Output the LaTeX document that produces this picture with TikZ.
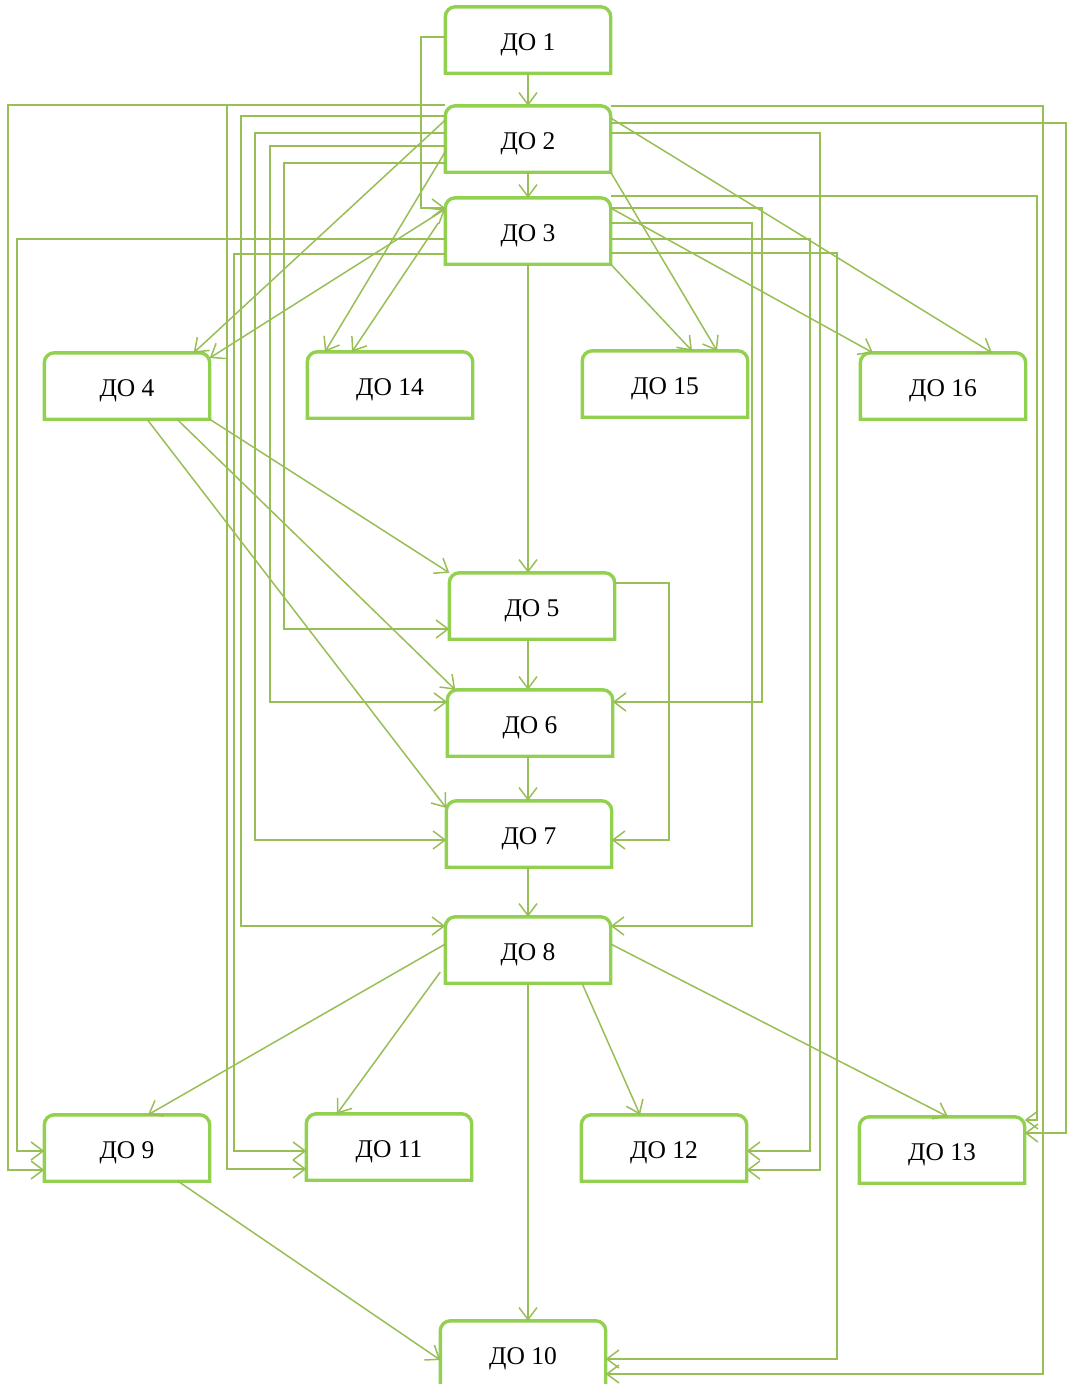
\documentclass[tikz,border=0pt]{standalone}
\usepackage{fontspec}
\setmainfont{Liberation Serif}
\usetikzlibrary{arrows.meta,calc}
\definecolor{doRim}{RGB}{146,208,80}
\definecolor{doLink}{RGB}{152,190,86}
\tikzset{
    do box/.style = {
        minimum width=165pt,
        minimum height=66pt,
        inner sep=0pt,
        text height=20pt,
        text depth=0pt,
        font=\fontsize{25.5}{30}\selectfont,
        },
    do rim/.style = {
        draw=doRim,
        line width=3.4pt,
        },
    do link/.style = {
        draw=doLink,
        line width=1.5pt,
        ->,
        },
    >={Straight Barb[length=12pt,width=18pt]},
}
\begin{document}
\begin{tikzpicture}[x=1pt, y=-1pt]
    \useasboundingbox (0,0) rectangle (1067,1384);
    % boxes
    \node [do box] (d1)  at (528,40)   {ДО 1};
    \node [do box] (d2)  at (528,139)  {ДО 2};
    \node [do box] (d3)  at (528,231)  {ДО 3};
    \node [do box] (d4)  at (127,386)  {ДО 4};
    \node [do box] (d14) at (390,385)  {ДО 14};
    \node [do box] (d15) at (665,384)  {ДО 15};
    \node [do box] (d16) at (943,386)  {ДО 16};
    \node [do box] (d5)  at (532,606)  {ДО 5};
    \node [do box] (d6)  at (530,723)  {ДО 6};
    \node [do box] (d7)  at (529,834)  {ДО 7};
    \node [do box] (d8)  at (528,950)  {ДО 8};
    \node [do box] (d9)  at (127,1148) {ДО 9};
    \node [do box] (d11) at (389,1147) {ДО 11};
    \node [do box] (d12) at (664,1148) {ДО 12};
    \node [do box] (d13) at (942,1150) {ДО 13};
    \node [do box] (d10) at (523,1354) {ДО 10};

    % rims, rounded on top only
    \foreach \n in {d1,d2,d3,d4,d5,d6,d7,d8,d9,d10,d11,d12,d13,d14,d15,d16}
        \draw [do rim] (\n.south west) -- ($(\n.north west)+(0,10)$)
            arc [start angle=180, end angle=90, radius=10pt]
            -- ($(\n.north east)+(-10,0)$)
            arc [start angle=90, end angle=0, radius=10pt]
            -- (\n.south east) -- cycle;

    % main column
    \foreach \a/\b in {d1/d2, d2/d3, d3/d5, d5/d6, d6/d7, d7/d8, d8/d10}
        \draw [do link] (\a.south -| d3) -- (\b.north -| d3);

    % routes on the left
    \draw [do link] ($(d2.west)+(0,-34)$) -| (8,1170)   -- ($(d9.west)+(0,22)$);
    \draw [do link] ($(d3.west)+(0,8)$)   -| (17,1151)  -- ($(d9.west)+(0,3)$);
    \draw [do link] ($(d2.west)+(0,-34)$) -| (227,1169) -- ($(d11.west)+(0,22)$);
    \draw [do link] ($(d3.west)+(0,23)$)  -| (234,1151) -- ($(d11.west)+(0,4)$);
    \draw [do link] ($(d2.west)+(0,-23)$) -| (241,926)  -- ($(d8.west)+(0,-24)$);
    \draw [do link] ($(d2.west)+(0,-6)$)  -| (255,840)  -- ($(d7.west)+(0,6)$);
    \draw [do link] ($(d2.west)+(0,7)$)   -| (270,702)  -- ($(d6.west)+(0,-21)$);
    \draw [do link] ($(d2.west)+(0,24)$)  -| (284,629)  -- ($(d5.west)+(0,23)$);
    \draw [do link] ($(d1.west)+(0,-3)$)  -| (421,208)  -- ($(d3.west)+(0,-23)$);

    % routes on the right
    \draw [do link] ($(d2.east)+(0,-33)$) -| (1043,1374) -- ($(d10.east)+(0,20)$);
    \draw [do link] ($(d2.east)+(0,-16)$) -| (1066,1133) -- ($(d13.east)+(0,-17)$);
    \draw [do link] ($(d2.east)+(0,-6)$)  -| (820,1170)  -- ($(d12.east)+(0,22)$);
    \draw [do link] ($(d3.east)+(0,-35)$) -| (1037,1120) -- ($(d13.east)+(0,-30)$);
    \draw [do link] ($(d3.east)+(0,-23)$) -| (762,702)   -- ($(d6.east)+(0,-21)$);
    \draw [do link] ($(d3.east)+(0,-8)$)  -| (752,926)   -- ($(d8.east)+(0,-24)$);
    \draw [do link] ($(d3.east)+(0,8)$)   -| (810,1151)  -- ($(d12.east)+(0,3)$);
    \draw [do link] ($(d3.east)+(0,22)$)  -| (837,1359)  -- ($(d10.east)+(0,5)$);
    \draw [do link] ($(d5.east)+(0,-23)$) -| (669,840)   -- ($(d7.east)+(0,6)$);

    % straight links
    \draw [do link] ($(d2.west)+(0,-19)$) -- ($(d4.north east)+(-16,0)$);
    \draw [do link, <->] ($(d4.east)+(0,-28)$) -- ($(d3.west)+(0,-22)$);
    \draw [do link] ($(d2.west)+(1,11)$)  -- ($(d14.north)+(-65,0)$);
    \draw [do link] ($(d3.west)+(-7,-8)$) -- ($(d14.north)+(-38,0)$);
    \draw [do link] (d2.south east)       -- ($(d15.north)+(52,0)$);
    \draw [do link] (d3.south east)       -- ($(d15.north)+(27,0)$);
    \draw [do link] ($(d2.east)+(0,-21)$) -- ($(d16.north)+(49,0)$);
    \draw [do link] ($(d3.east)+(0,-23)$) -- ($(d16.north)+(-70,0)$);
    \draw [do link] (d4.south east)       -- (d5.north west);
    \draw [do link] ($(d4.south)+(50,0)$) -- ($(d6.north west)+(8,0)$);
    \draw [do link] ($(d4.south)+(20,0)$) -- ($(d7.west)+(0,-26)$);
    \draw [do link] ($(d8.west)+(0,-6)$)  -- ($(d9.north)+(21,0)$);
    \draw [do link] ($(d8.west)+(-5,22)$) -- ($(d11.north)+(-52,0)$);
    \draw [do link] ($(d8.south)+(54,0)$) -- ($(d12.north)+(-24,0)$);
    \draw [do link] ($(d8.east)+(0,-6)$)  -- ($(d13.north)+(6,0)$);
    \draw [do link] ($(d9.south)+(51,0)$) -- ($(d10.west)+(0,6)$);
\end{tikzpicture}
\end{document}
